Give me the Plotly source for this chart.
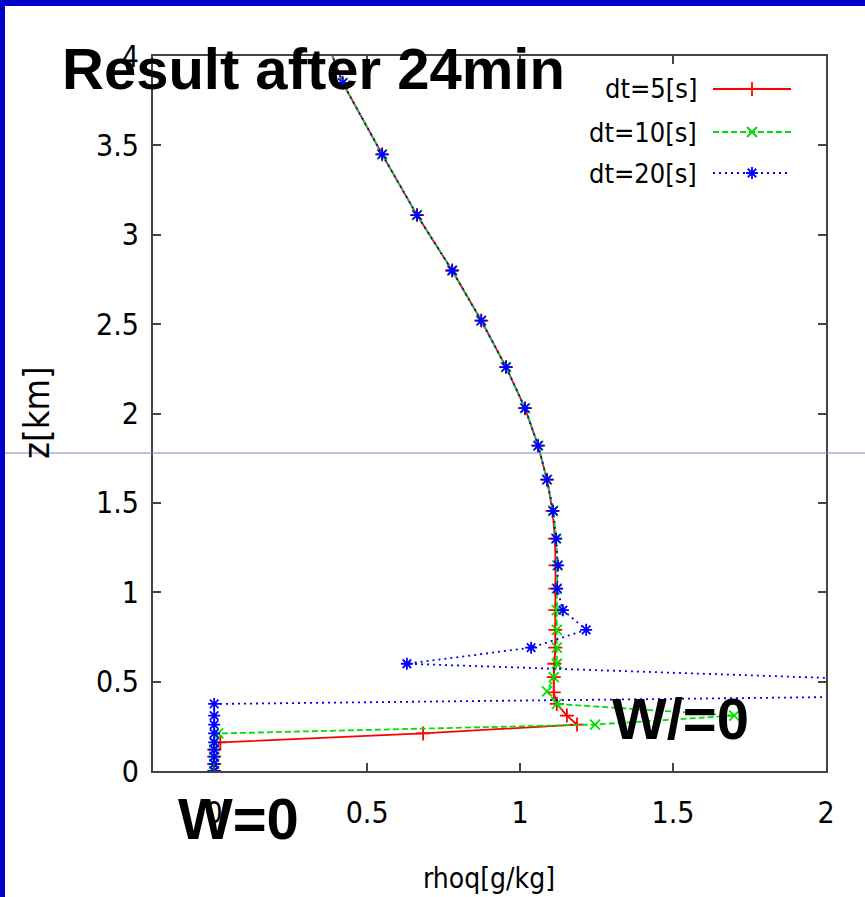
import plotly.graph_objects as go

# ---------------- data ----------------
series_names = ["dt=5[s]", "dt=10[s]", "dt=20[s]"]

z_dt5 = [4.3, 3.85, 3.45, 3.11, 2.80, 2.52, 2.26, 2.03, 1.82, 1.63, 1.455, 1.30, 1.15, 1.02,
         0.90, 0.79, 0.69, 0.60, 0.525, 0.44, 0.375, 0.31, 0.26, 0.21, 0.16, 0.12, 0.08, 0.04, 0.0]
x_dt5 = [0.32, 0.42, 0.549, 0.663, 0.778, 0.873, 0.954, 1.016, 1.059, 1.088, 1.106, 1.114, 1.116, 1.115,
         1.115, 1.115, 1.115, 1.112, 1.11, 1.11, 1.12, 1.153, 1.186, 0.683, 0.02, 0.0, 0.0, 0.0, 0.0]

z_dt10 = [4.3, 3.85, 3.45, 3.11, 2.80, 2.52, 2.26, 2.03, 1.82, 1.63, 1.455, 1.30, 1.15, 1.02,
          0.90, 0.79, 0.69, 0.60, 0.525, 0.445, 0.375, 0.31, 0.26, 0.21, 0.16, 0.12, 0.08, 0.04, 0.0]
x_dt10 = [0.32, 0.42, 0.549, 0.663, 0.778, 0.873, 0.954, 1.016, 1.059, 1.088, 1.108, 1.118, 1.122, 1.12,
          1.12, 1.12, 1.12, 1.12, 1.11, 1.088, 1.12, 1.70, 1.245, 0.013, 0.0, 0.0, 0.0, 0.0, 0.0]

z_dt20 = [4.3, 3.85, 3.45, 3.11, 2.80, 2.52, 2.26, 2.03, 1.82, 1.63, 1.455, 1.30, 1.15, 1.02,
          0.90, 0.79, 0.69, 0.60, 0.44, 0.375, 0.31, 0.26, 0.21, 0.16, 0.12, 0.08, 0.04, 0.0]
x_dt20 = [0.32, 0.42, 0.549, 0.663, 0.778, 0.873, 0.954, 1.016, 1.059, 1.088, 1.108, 1.118, 1.124, 1.121,
          1.14, 1.216, 1.036, 0.63, 3.4, 0.0, 0.0, 0.0, 0.0, 0.0, 0.0, 0.0, 0.0, 0.0]

x_ticks = [0, 0.5, 1, 1.5, 2]
x_ticklabels = ["0", "0.5", "1", "1.5", "2"]
y_ticks = [0, 0.5, 1, 1.5, 2, 2.5, 3, 3.5, 4]
y_ticklabels = ["0", "0.5", "1", "1.5", "2", "2.5", "3", "3.5", "4"]

# ---------------- styles ----------------
colors = ["#ff0000", "#00e000", "#0000ff"]
dashes = ["solid", "6px,3px", "2px,4px"]
symbols = ["cross-thin-open", "x-thin-open", "asterisk-open"]
NARROW = "Liberation Sans Narrow, DejaVu Sans Condensed, Liberation Sans, Arial, sans-serif"
BOLD = "Liberation Sans, Arial, sans-serif"

W, H = 865, 897
L, R, T, B = 153, 826, 56, 771
pw, ph = R - L, B - T


def px(xp):
    return (xp - L) / pw


def py(yp):
    return (B - yp) / ph


fig = go.Figure()
data = [(x_dt5, z_dt5), (x_dt10, z_dt10), (x_dt20, z_dt20)]
for i, (xs, zs) in enumerate(data):
    fig.add_trace(go.Scatter(
        x=xs, y=zs, mode="lines+markers", name=series_names[i], showlegend=False,
        line=dict(color=colors[i], width=1.8, dash=dashes[i]),
        marker=dict(symbol=symbols[i], size=10, color=colors[i],
                    line=dict(color=colors[i], width=1.8)),
    ))

# custom legend (text left, sample right) on an invisible overlay axis in [0,1]
leg_y = [py(89), py(132), py(173)]
for i in range(3):
    fig.add_trace(go.Scatter(
        x=[px(713), px(791)], y=[leg_y[i], leg_y[i]], xaxis="x2", yaxis="y2",
        mode="lines", showlegend=False, hoverinfo="skip",
        line=dict(color=colors[i], width=1.8, dash=dashes[i])))
    fig.add_trace(go.Scatter(
        x=[px(752)], y=[leg_y[i]], xaxis="x2", yaxis="y2",
        mode="markers", showlegend=False, hoverinfo="skip",
        marker=dict(symbol=symbols[i], size=10, color=colors[i],
                    line=dict(color=colors[i], width=1.8))))

annotations = []
for i in range(3):
    annotations.append(dict(
        text=series_names[i], xref="paper", yref="paper", x=px(699), y=leg_y[i],
        xanchor="right", yanchor="middle", showarrow=False,
        font=dict(family=NARROW, size=27, color="#000000")))

# axis titles
annotations.append(dict(text="z[km]", xref="paper", yref="paper", x=px(36), y=py(413),
                        textangle=-90, xanchor="center", yanchor="middle", showarrow=False,
                        font=dict(family=NARROW, size=36, color="#000000")))
annotations.append(dict(text="rhoq[g/kg]", xref="paper", yref="paper", x=px(489), y=py(878),
                        xanchor="center", yanchor="middle", showarrow=False,
                        font=dict(family=NARROW, size=28, color="#000000")))

# overlay slide texts
annotations.append(dict(text="<b>Result after 24min</b>", xref="paper", yref="paper",
                        x=px(60), y=py(68), xanchor="left", yanchor="middle", showarrow=False,
                        font=dict(family=BOLD, size=58, color="#000000")))
annotations.append(dict(text="<b>W=0</b>", xref="paper", yref="paper",
                        x=px(176), y=py(818), xanchor="left", yanchor="middle", showarrow=False,
                        font=dict(family=BOLD, size=58, color="#000000")))
annotations.append(dict(text="<b>W/=0</b>", xref="paper", yref="paper",
                        x=px(610), y=py(718), xanchor="left", yanchor="middle", showarrow=False,
                        font=dict(family=BOLD, size=58, color="#000000")))

shapes = [
    # thin horizontal guide line across the slide
    dict(type="line", xref="paper", yref="paper", x0=px(5), x1=px(W), y0=py(453), y1=py(453),
         line=dict(color="#7f7fd0", width=1), layer="above"),
    # slide border (left and top)
    dict(type="rect", xref="paper", yref="paper", x0=px(0), x1=px(5), y0=py(H), y1=py(0),
         fillcolor="#0000cc", line=dict(width=0), layer="above"),
    dict(type="rect", xref="paper", yref="paper", x0=px(0), x1=px(W), y0=py(6), y1=py(0),
         fillcolor="#0000cc", line=dict(width=0), layer="above"),
]

axis_common = dict(showline=True, linecolor="#444444", linewidth=2, mirror="ticks",
                   ticks="inside", ticklen=8, tickwidth=1.5, tickcolor="#444444",
                   showgrid=False, zeroline=False,
                   tickfont=dict(family=NARROW, size=30, color="#000000"))

fig.update_layout(
    width=W, height=H,
    margin=dict(l=L, r=W - R, t=T, b=H - B, pad=0),
    paper_bgcolor="#ffffff", plot_bgcolor="#ffffff",
    xaxis=dict(range=[-0.2, 2], tickvals=x_ticks, ticktext=x_ticklabels,
               ticklabelstandoff=14, **axis_common),
    yaxis=dict(range=[0, 4], tickvals=y_ticks, ticktext=y_ticklabels,
               ticklabelstandoff=6, **axis_common),
    xaxis2=dict(overlaying="x", range=[0, 1], visible=False, fixedrange=True),
    yaxis2=dict(overlaying="y", range=[0, 1], visible=False, fixedrange=True),
    annotations=annotations, shapes=shapes, showlegend=False,
)

fig.write_html("out.html")
